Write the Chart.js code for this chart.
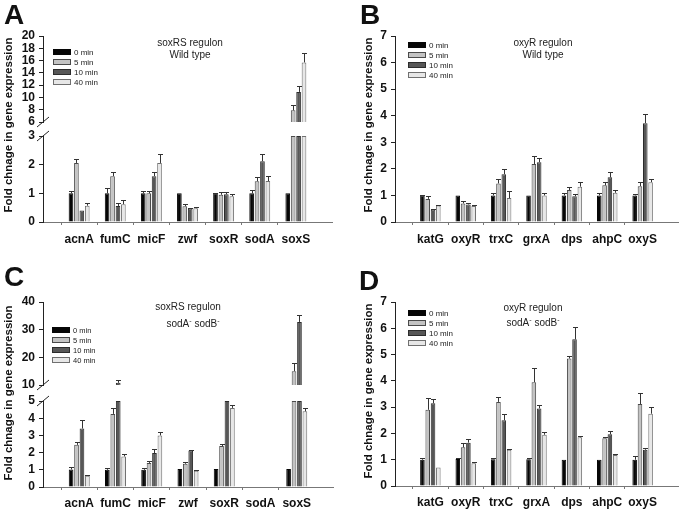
<!DOCTYPE html>
<html><head><meta charset="utf-8">
<script src="https://cdn.jsdelivr.net/npm/chart.js@4.4.1/dist/chart.umd.min.js"></script>
<style>
body{margin:0;background:#fff;width:685px;height:510px;position:relative;overflow:hidden;font-family:"Liberation Sans",Arial,sans-serif;color:#111;}
canvas{position:absolute;}
.letter{position:absolute;font-weight:bold;font-size:28px;line-height:28px;}
.ann{position:absolute;font-size:10px;line-height:12px;text-align:center;color:#222;width:120px;}
.ytitle{position:absolute;font-weight:bold;font-size:11.5px;line-height:14px;height:14px;width:230px;text-align:center;transform:rotate(-90deg);white-space:nowrap;}
.leg{position:absolute;font-size:8px;color:#222;}
.leg div{position:relative;height:10px;line-height:10px;white-space:nowrap;}
.leg span.sw{display:inline-block;width:16px;height:4px;border:1px solid #000;vertical-align:middle;margin-right:3px;position:relative;top:-1px;}
</style>
</head><body>
<canvas id="cA" width="342" height="255" style="left:0;top:0"></canvas>
<canvas id="cB" width="340" height="255" style="left:345px;top:0"></canvas>
<canvas id="cC" width="342" height="255" style="left:0;top:255px"></canvas>
<canvas id="cD" width="340" height="255" style="left:345px;top:255px"></canvas>

<div class="letter" style="left:4px;top:1px">A</div>
<div class="letter" style="left:360px;top:1px">B</div>
<div class="letter" style="left:4px;top:263px">C</div>
<div class="letter" style="left:359px;top:267px">D</div>

<div class="ann" style="left:130px;top:37px">soxRS regulon<br>Wild type</div>
<div class="ann" style="left:483px;top:37px">oxyR regulon<br>Wild type</div>
<div class="ann" style="left:128px;top:301px">soxRS regulon<br><span style="position:relative;left:5px;top:2px">sodA<sup style="font-size:7px">-</sup> sodB<sup style="font-size:7px">-</sup></span></div>
<div class="ann" style="left:473px;top:302px">oxyR regulon<br>sodA<sup style="font-size:7px">-</sup> sodB<sup style="font-size:7px">-</sup></div>

<div class="ytitle" style="left:-107px;top:118px">Fold chnage in gene expression</div>
<div class="ytitle" style="left:253px;top:118px">Fold chnage in gene expression</div>
<div class="ytitle" style="left:-107px;top:386px">Fold chnage in gene expression</div>
<div class="ytitle" style="left:253px;top:384px">Fold chnage in gene expression</div>

<div id="legA" class="leg" style="left:53px;top:48px"></div>
<div id="legB" class="leg" style="left:408px;top:41px"></div>
<div id="legC" class="leg" style="left:52px;top:326px;font-size:7.5px"></div>
<div id="legD" class="leg" style="left:408px;top:309px"></div>

<script>
// ---------- data ----------
const soxGenes = ['acnA','fumC','micF','zwf','soxR','sodA','soxS'];
const oxyGenes = ['katG','oxyR','trxC','grxA','dps','ahpC','oxyS'];
const timeLabels = ['0 min','5 min','10 min','40 min'];

// Panel A: soxRS regulon, wild type
const aMin0  = [1.0, 1.0, 1.0, 1.0, 1.0, 1.0, 1.0];
const aMin5  = [2.06, 1.6, 1.0, 0.55, 0.95, 1.42, 7.9];
const aMin10 = [0.4, 0.56, 1.6, 0.47, 0.97, 2.12, 10.9];
const aMin40 = [0.57, 0.62, 2.06, 0.48, 0.9, 1.43, 15.7];
const aErr0  = [0.09, 0.17, 0.09, 0, 0.02, 0.13, 0];
const aErr5  = [0.14, 0.14, 0.07, 0.07, 0.11, 0.14, 0.9];
const aErr10 = [0, 0.09, 0.15, 0.03, 0.09, 0.25, 0.9];
const aErr40 = [0.09, 0.14, 0.3, 0.04, 0.06, 0.17, 1.6];
const aLoTicks = [0, 1, 2, 3];
const aHiTicks = [6, 8, 10, 12, 14, 16, 18, 20];

// Panel B: oxyR regulon, wild type
const bMin0  = [1.0, 1.0, 1.0, 1.0, 1.0, 1.0, 1.0];
const bMin5  = [0.87, 0.7, 1.45, 2.18, 1.2, 1.38, 1.35];
const bMin10 = [0.47, 0.66, 1.8, 2.25, 0.97, 1.68, 3.72];
const bMin40 = [0.62, 0.6, 0.9, 1.0, 1.33, 1.1, 1.5];
const bErr0  = [0.02, 0, 0.08, 0, 0.1, 0.1, 0.05];
const bErr5  = [0.12, 0.08, 0.15, 0.29, 0.1, 0.12, 0.15];
const bErr10 = [0.03, 0.04, 0.2, 0.15, 0.1, 0.2, 0.33];
const bErr40 = [0.03, 0.05, 0.25, 0.1, 0.17, 0.12, 0.12];
const bTicks = [0, 1, 2, 3, 4, 5, 6, 7];

// Panel C: soxRS regulon, sodA- sodB-
const cMin0  = [1.02, 1.0, 1.0, 1.05, 1.05, null, 1.05];
const cMin5  = [2.45, 4.25, 1.4, 1.35, 2.38, null, 15.0];
const cMin10 = [3.4, 10.8, 1.97, 2.12, 5.0, null, 32.8];
const cMin40 = [0.65, 1.78, 3.0, 0.95, 4.6, null, 4.4];
const cErr0  = [0.13, 0.12, 0.1, 0, 0, null, 0];
const cErr5  = [0.15, 0.33, 0.1, 0.13, 0.14, null, 2.8];
const cErr10 = [0.47, 1.0, 0.25, 0.03, 0, null, 2.4];
const cErr40 = [0.03, 0.14, 0.18, 0.03, 0.15, null, 0.2];
const cLoTicks = [0, 1, 2, 3, 4, 5];
const cHiTicks = [10, 20, 30, 40];

// Panel D: oxyR regulon, sodA- sodB-
const dMin0  = [1.0, 1.03, 1.02, 1.02, 1.0, 1.0, 1.0];
const dMin5  = [2.9, 1.47, 3.2, 3.95, 4.85, 1.82, 3.12];
const dMin10 = [3.15, 1.65, 2.5, 2.95, 5.58, 1.97, 1.38];
const dMin40 = [0.7, 0.87, 1.38, 1.95, 1.85, 1.18, 2.75];
const dErr0  = [0.07, 0.02, 0.03, 0.05, 0, 0, 0.13];
const dErr5  = [0.45, 0.18, 0.18, 0.53, 0.1, 0.03, 0.4];
const dErr10 = [0.15, 0.12, 0.23, 0.15, 0.47, 0.13, 0.07];
const dErr40 = [0, 0.03, 0.02, 0.1, 0.07, 0.02, 0.25];
const dTicks = [0, 1, 2, 3, 4, 5, 6, 7];

// ---------- styling ----------
const fills   = ['#060606', '#c3c3c3', '#575757', '#e7e7e7'];
const borders = ['#060606', '#4a4a4a', '#2c2c2c', '#707070'];

Chart.defaults.font.family = '"Liberation Sans", Arial, sans-serif';

const panels = [
  {id:'cA', leg:'legA', genes:soxGenes, series:[aMin0,aMin5,aMin10,aMin40], errs:[aErr0,aErr5,aErr10,aErr40],
   broken:true, loMax:3, hiMin:6, hiMax:20, loTicks:aLoTicks, hiTicks:aHiTicks, hiH:86, gapH:14, loH:86,
   pad:{left:20, top:36, right:10, bottom:0}, yW:23, xH:33, xPad:7},
  {id:'cB', leg:'legB', genes:oxyGenes, series:[bMin0,bMin5,bMin10,bMin40], errs:[bErr0,bErr5,bErr10,bErr40],
   broken:false, loMax:7, loTicks:bTicks,
   pad:{left:27, top:36, right:7, bottom:0}, yW:23, xH:33, xPad:7},
  {id:'cC', leg:'legC', genes:soxGenes, series:[cMin0,cMin5,cMin10,cMin40], errs:[cErr0,cErr5,cErr10,cErr40],
   broken:true, loMax:5, hiMin:10, hiMax:40, loTicks:cLoTicks, hiTicks:cHiTicks, hiH:83, gapH:16, loH:86,
   pad:{left:20, top:47, right:9, bottom:0}, yW:23, xH:23, xPad:6},
  {id:'cD', leg:'legD', genes:oxyGenes, series:[dMin0,dMin5,dMin10,dMin40], errs:[dErr0,dErr5,dErr10,dErr40],
   broken:false, loMax:7, loTicks:dTicks,
   pad:{left:27, top:47, right:7, bottom:0}, yW:23, xH:24, xPad:6}
];

const errPlugin = {
  id: 'errbars',
  afterDatasetsDraw(chart) {
    const p = chart.config.options.plugins.errbars;
    const ctx = chart.ctx;
    ctx.save();
    ctx.strokeStyle = '#333';
    ctx.lineWidth = 1;
    chart.data.datasets.forEach((ds, di) => {
      if (!ds.errs) return;
      const meta = chart.getDatasetMeta(di);
      ds.vals.forEach((v, j) => {
        const e = ds.errs[j];
        if (v == null || !e) return;
        let sc, top;
        if (!p.broken || v <= p.loMax) { sc = chart.scales.yLo; top = Math.min(v + e, p.loMax); }
        else if (v >= p.hiMin) { sc = chart.scales.yHi; top = Math.min(v + e, p.hiMax); }
        else return;
        const bar = meta.data[j + 1];
        const x = Math.round(bar.x) + 0.5;
        const y0 = sc.getPixelForValue(v), y1 = Math.round(sc.getPixelForValue(top)) + 0.5;
        ctx.beginPath();
        ctx.moveTo(x, y0); ctx.lineTo(x, y1);
        ctx.moveTo(x - 2.5, y1); ctx.lineTo(x + 2.5, y1);
        ctx.stroke();
      });
    });
    if (p.broken) {
      const x = chart.chartArea.left;
      ctx.strokeStyle = '#222';
      [chart.scales.yHi.bottom, chart.scales.yLo.top].forEach(y => {
        ctx.beginPath();
        ctx.moveTo(x - 6, y + 5); ctx.lineTo(x + 6, y - 5);
        ctx.stroke();
      });
    }
    ctx.restore();
  }
};

function tickFont() { return {size: 12, weight: 'bold'}; }

function yScale(p, ticks, min, max, extra) {
  return Object.assign({
    type: 'linear', position: 'left', min: min, max: max, stacked: false,
    border: {display: true, color: '#222', width: 1},
    grid: {drawOnChartArea: false, drawTicks: true, tickLength: 4, color: '#222'},
    ticks: {color: '#111', font: tickFont(), padding: 4, autoSkip: false},
    afterBuildTicks: s => { s.ticks = ticks.map(v => ({value: v})); },
    afterFit: s => { s.width = p.yW; }
  }, extra || {});
}

panels.forEach(p => {
  const labels = [''].concat(p.genes, ['']);
  const padArr = a => [null].concat(a, [null]);
  const datasets = [];
  p.series.forEach((vals, i) => {
    const base = {
      label: timeLabels[i], stack: 's' + i,
      backgroundColor: fills[i], borderColor: borders[i], borderWidth: 1,
      categoryPercentage: 0.6, barPercentage: 0.86
    };
    const lo = p.broken ? vals.map(v => v == null ? null : Math.min(v, p.loMax)) : vals;
    datasets.push(Object.assign({}, base, {data: padArr(lo), yAxisID: 'yLo', vals: vals, errs: p.errs[i]}));
    if (p.broken) {
      const hi = vals.map(v => (v != null && v > p.hiMin) ? [p.hiMin, v] : null);
      datasets.push(Object.assign({}, base, {data: padArr(hi), yAxisID: 'yHi'}));
    }
  });

  const scales = {
    x: {
      type: 'category', labels: labels, offset: false, stacked: true,
      grid: {display: true, drawOnChartArea: false, drawTicks: true, tickLength: 3,
             color: c => (c.index === 0 || c.index === labels.length - 1) ? 'rgba(0,0,0,0)' : '#777'},
      border: {display: true, color: '#777', width: 1},
      ticks: {color: '#111', font: tickFont(), padding: p.xPad, autoSkip: false, maxRotation: 0},
      afterFit: s => { s.height = p.xH; }
    }
  };
  if (p.broken) {
    scales.yHi = yScale(p, p.hiTicks, p.hiMin, p.hiMax, {stack: 'v', stackWeight: p.hiH, weight: 2});
    scales.yGap = {
      type: 'linear', position: 'left', min: 0, max: 1, stack: 'v', stackWeight: p.gapH, weight: 1,
      border: {display: false}, grid: {display: false}, ticks: {display: false},
      afterFit: s => { s.width = p.yW; }
    };
    scales.yLo = yScale(p, p.loTicks, 0, p.loMax, {stack: 'v', stackWeight: p.loH, weight: 0});
  } else {
    scales.yLo = yScale(p, p.loTicks, 0, p.loMax);
  }

  new Chart(document.getElementById(p.id), {
    type: 'bar',
    data: {labels: labels, datasets: datasets},
    options: {
      responsive: false, animation: false, events: [],
      devicePixelRatio: 1,
      layout: {padding: p.pad},
      scales: scales,
      plugins: {legend: {display: false}, tooltip: {enabled: false},
                errbars: {broken: p.broken, loMax: p.loMax, hiMin: p.hiMin, hiMax: p.hiMax}}
    },
    plugins: [errPlugin]
  });

  // legend (text from timeLabels)
  const leg = document.getElementById(p.leg);
  timeLabels.forEach((t, i) => {
    const row = document.createElement('div');
    const sw = document.createElement('span');
    sw.className = 'sw';
    sw.style.background = fills[i];
    sw.style.borderColor = borders[i];
    row.appendChild(sw);
    row.appendChild(document.createTextNode(t));
    leg.appendChild(row);
  });
});
</script>
</body></html>
